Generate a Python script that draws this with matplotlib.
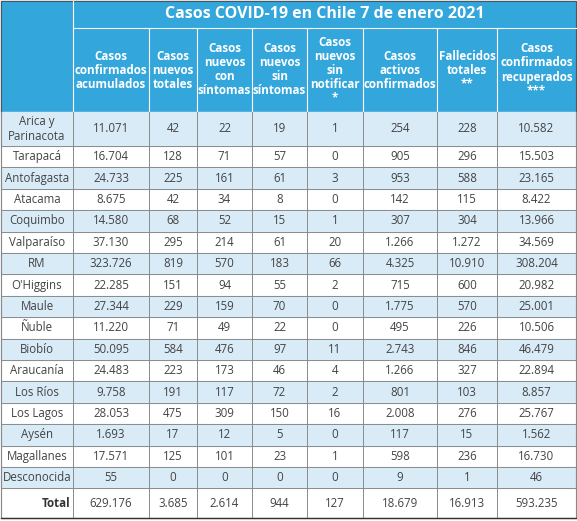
import matplotlib.pyplot as plt
from matplotlib.patches import Rectangle

plt.rcParams['font.family'] = ['Open Sans', 'DejaVu Sans']

title = 'Casos COVID-19 en Chile 7 de enero 2021'
headers = ['Casos\nconfirmados\nacumulados', 'Casos\nnuevos\ntotales', 'Casos\nnuevos\ncon\nsíntomas',
           'Casos\nnuevos\nsin\nsíntomas', 'Casos\nnuevos\nsin\nnotificar\n*', 'Casos\nactivos\nconfirmados',
           'Fallecidos\ntotales\n**', 'Casos\nconfirmados\nrecuperados\n***']
regions = ['Arica y\nParinacota', 'Tarapacá', 'Antofagasta', 'Atacama', 'Coquimbo', 'Valparaíso', 'RM',
           "O'Higgins", 'Maule', 'Ñuble', 'Biobío', 'Araucanía', 'Los Ríos', 'Los Lagos', 'Aysén',
           'Magallanes', 'Desconocida']
acumulados = ['11.071', '16.704', '24.733', '8.675', '14.580', '37.130', '323.726', '22.285', '27.344',
              '11.220', '50.095', '24.483', '9.758', '28.053', '1.693', '17.571', '55']
nuevos = ['42', '128', '225', '42', '68', '295', '819', '151', '229', '71', '584', '223', '191', '475',
          '17', '125', '0']
con_sint = ['22', '71', '161', '34', '52', '214', '570', '94', '159', '49', '476', '173', '117', '309',
            '12', '101', '0']
sin_sint = ['19', '57', '61', '8', '15', '61', '183', '55', '70', '22', '97', '46', '72', '150', '5',
            '23', '0']
sin_notif = ['1', '0', '3', '0', '1', '20', '66', '2', '0', '0', '11', '4', '2', '16', '0', '1', '0']
activos = ['254', '905', '953', '142', '307', '1.266', '4.325', '715', '1.775', '495', '2.743', '1.266',
           '801', '2.008', '117', '598', '9']
fallecidos = ['228', '296', '588', '115', '304', '1.272', '10.910', '600', '570', '226', '846', '327',
              '103', '276', '15', '236', '1']
recuperados = ['10.582', '15.503', '23.165', '8.422', '13.966', '34.569', '308.204', '20.982', '25.001',
               '10.506', '46.479', '22.894', '8.857', '25.767', '1.562', '16.730', '46']
totals = ['629.176', '3.685', '2.614', '944', '127', '18.679', '16.913', '593.235']

columns = [acumulados, nuevos, con_sint, sin_sint, sin_notif, activos, fallecidos, recuperados]

W, H = 577, 521
fig = plt.figure(figsize=(W / 100, H / 100), dpi=100)
ax = fig.add_axes([0, 0, 1, 1])
ax.set_xlim(0, W)
ax.set_ylim(H, 0)
ax.axis('off')

xs = [1, 73, 149, 197, 252, 307, 363, 437, 497, 576]
blue = '#33a6dc'
light = '#d8ebf7'
line = '#8a8a8a'

# header
ax.add_patch(Rectangle((1, 1), W - 2, 111, color=blue))
ax.text((73 + 576) / 2, 14, title, color='white', fontsize=11.5, fontweight='bold', ha='center', va='center')
ax.plot([73, 576], [28, 28], color='white', lw=0.8)
for x in xs[1:-1]:
    ax.plot([x, x], [1 if x == 73 else 28, 112], color='white', lw=0.8)
for i, h in enumerate(headers):
    ax.text((xs[i + 1] + xs[i + 2]) / 2, 70, h, color='white', fontsize=8.4, fontweight='bold',
            ha='center', va='center', linespacing=1.1)

# body rows
tops = [112, 146]
rh = 21.4
for i in range(1, len(regions)):
    tops.append(146 + i * rh)
for r, name in enumerate(regions):
    y0, y1 = tops[r], tops[r + 1]
    if r % 2 == 0:
        ax.add_patch(Rectangle((1, y0), W - 2, y1 - y0, color=light))
    yc = (y0 + y1) / 2
    ax.text(37, yc, name, fontsize=8.3, color='#444444', ha='center', va='center', linespacing=1.1)
    for c, col in enumerate(columns):
        ax.text((xs[c + 1] + xs[c + 2]) / 2, yc, col[r], fontsize=8.3, color='#444444', ha='center', va='center')
    ax.plot([1, 576], [y1, y1], color=line, lw=0.7)

# total row
ty0 = tops[-1]
ty1 = 518
ax.text(70, (ty0 + ty1) / 2, 'Total', fontsize=8.3, color='#333333', fontweight='bold', ha='right', va='center')
for c, t in enumerate(totals):
    ax.text((xs[c + 1] + xs[c + 2]) / 2, (ty0 + ty1) / 2, t, fontsize=8.3, color='#444444', ha='center', va='center')

for x in xs:
    ax.plot([x, x], [112, ty1], color=line, lw=0.7)
ax.plot([1, 576], [ty1, ty1], color='#333333', lw=1.0)
ax.add_patch(Rectangle((1, 1), W - 2, ty1 - 1, fill=False, ec='#555555', lw=0.8))

fig.savefig('out.png', dpi=100)
